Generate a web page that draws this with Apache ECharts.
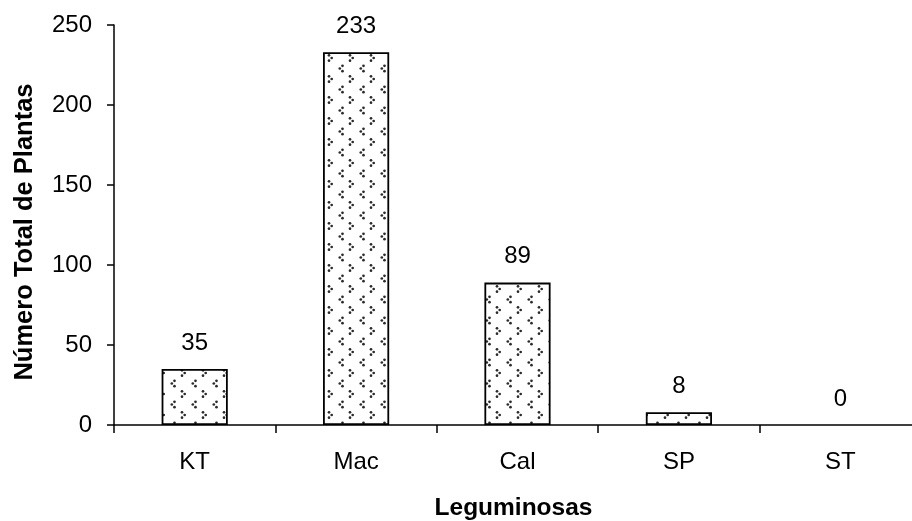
<!DOCTYPE html>
<html><head><meta charset="utf-8">
<script src="https://cdn.jsdelivr.net/npm/echarts@6/dist/echarts.min.js"></script>
<style>html,body{margin:0;padding:0;background:#fff}#c{width:912px;height:521px}</style>
</head><body><div id="c"></div>
<script>
const categories = ['KT', 'Mac', 'Cal', 'SP', 'ST'];
const values = [35, 233, 89, 8, 0];
const yTicks = [0, 50, 100, 150, 200, 250];

function makePattern() {
  const c = document.createElement('canvas');
  c.width = 21; c.height = 21;
  const g = c.getContext('2d');
  g.fillStyle = '#fff'; g.fillRect(0, 0, 21, 21);
  g.fillStyle = '#2a2a2a';
  const dot = (x, y) => { g.beginPath(); g.arc(x, y, 1.35, 0, Math.PI * 2); g.fill(); };
  // "<" cluster
  dot(6.5, 2.8); dot(3.8, 5.5); dot(6.5, 8.2);
  // ">" cluster
  dot(14, 13.3); dot(16.7, 16); dot(14, 18.7);
  return c;
}

const chart = echarts.init(document.getElementById('c'));
const font = 'Liberation Sans, Arial, sans-serif';
chart.setOption({
  animation: false,
  grid: { left: 114, top: 25, right: -9, bottom: 96, containLabel: false, outerBoundsMode: 'none' },
  xAxis: {
    type: 'category', data: categories,
    name: 'Leguminosas', nameLocation: 'middle', nameGap: 71,
    nameTextStyle: { fontFamily: font, fontSize: 24.5, fontWeight: 'bold', color: '#000', padding: [0, 8, 0, 0] },
    axisLine: { lineStyle: { color: '#000', width: 1.5 } },
    axisTick: { show: true, length: 8, alignWithLabel: false, lineStyle: { color: '#000', width: 1.5 } },
    axisLabel: { fontFamily: font, fontSize: 24, color: '#000', margin: 25 }
  },
  yAxis: {
    type: 'value', min: 0, max: 250, interval: 50,
    name: 'Número Total de Plantas', nameLocation: 'middle', nameGap: 76, nameRotate: 90,
    nameTextStyle: { fontFamily: font, fontSize: 25.5, fontWeight: 'bold', color: '#000', padding: [0, 14, 0, 0] },
    axisLine: { show: true, lineStyle: { color: '#000', width: 1.5 } },
    axisTick: { show: true, inside: false, length: 7, lineStyle: { color: '#000', width: 1.5 } },
    axisLabel: { fontFamily: font, fontSize: 24, color: '#000', margin: 22,
      formatter: v => yTicks.includes(v) ? String(v) : '' },
    splitLine: { show: false }
  },
  series: [{
    type: 'bar', barWidth: '41%',
    data: values.map(v => v === 0 ? { value: v, itemStyle: { borderWidth: 0 } } : v),
    itemStyle: { color: { image: makePattern(), repeat: 'repeat' }, borderColor: '#000', borderWidth: 1.8 },
    label: { show: true, position: 'top', distance: 14, fontFamily: font, fontSize: 24, color: '#000' }
  }]
});
</script></body></html>
